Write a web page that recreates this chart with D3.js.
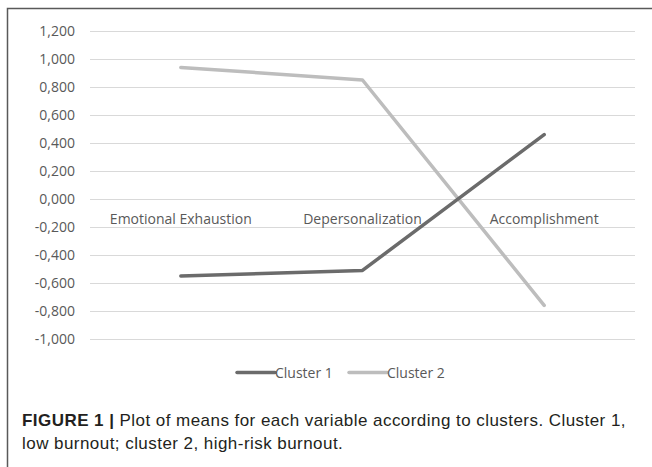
<!DOCTYPE html>
<html><head><meta charset="utf-8">
<script src="https://cdn.jsdelivr.net/npm/d3@7"></script>
<style>body{margin:0;background:#fff}svg{display:block}</style>
</head><body>
<script>
const categories = ["Emotional Exhaustion", "Depersonalization", "Accomplishment"];
const cluster1 = [-0.55, -0.51, 0.46];
const cluster2 = [0.94, 0.85, -0.76];
const seriesNames = ["Cluster 1", "Cluster 2"];
const tickValues = [1.2, 1.0, 0.8, 0.6, 0.4, 0.2, 0.0, -0.2, -0.4, -0.6, -0.8, -1.0];
const captionBold = "FIGURE 1 |";
const captionLine1 = " Plot of means for each variable according to clusters. Cluster 1,";
const captionLine2 = "low burnout; cluster 2, high-risk burnout.";

const W = 652, H = 467;
const svg = d3.select("body").append("svg").attr("width", W).attr("height", H);
const font = "'Open Sans', sans-serif";
const colors = ["#6b6b6b", "#bdbdbd"];

// frame
svg.append("path").attr("d", `M7.5,${H} V8.5 H${W}`).attr("fill","none").attr("stroke","#595959").attr("stroke-width",1.5);

const x = d3.scalePoint().domain(categories).range([90, 635]).padding(0.5);
const y = d3.scaleLinear().domain([-1.0, 1.2]).range([339, 31]);

const fmtTick = v => {
  const a = Math.abs(v) < 1e-9 ? 0 : v;
  return (a < 0 ? "-" : "") + Math.abs(a).toFixed(3).replace(".", ",");
};

const yAxis = d3.axisLeft(y).tickValues(tickValues).tickSize(-(635 - 90)).tickFormat(fmtTick).tickPadding(15);
const ga = svg.append("g").attr("transform", "translate(90,0)").call(yAxis);
ga.select(".domain").remove();
ga.selectAll(".tick line").attr("stroke", "#d9d9d9").attr("stroke-width", 1.2);
ga.selectAll(".tick text").attr("fill", "#595959").style("font-family", font).style("font-size", "14px");

svg.append("g").selectAll("text").data(categories).join("text")
  .attr("x", d => x(d)).attr("y", y(0) + 25)
  .attr("text-anchor", "middle").attr("fill", "#595959")
  .style("font-family", font).style("font-size", "14px").text(d => d);

const line = d3.line().x((d, i) => x(categories[i])).y(d => y(d));
[[cluster2, 1], [cluster1, 0]].forEach(([s, idx]) => {
  svg.append("path").datum(s).attr("d", line).attr("fill", "none")
    .attr("stroke", colors[idx]).attr("stroke-width", 3.5)
    .attr("stroke-linecap", "round").attr("stroke-linejoin", "round");
});

const legX = [237, 349];
const lg = svg.append("g");
seriesNames.forEach((n, i) => {
  lg.append("line").attr("x1", legX[i]).attr("x2", legX[i] + 38).attr("y1", 372.5).attr("y2", 372.5)
    .attr("stroke", colors[i]).attr("stroke-width", 3.5).attr("stroke-linecap", "round");
  lg.append("text").attr("x", legX[i] + 38).attr("y", 377.5).attr("fill", "#595959")
    .style("font-family", font).style("font-size", "14px").text(n);
});

const capFont = "'Liberation Sans', Arial, sans-serif";
const cap = svg.append("text").attr("x", 22).attr("y", 426).attr("fill", "#231f20")
  .style("font-family", capFont).style("font-size", "17px").style("letter-spacing", "0.45px");
cap.append("tspan").style("font-weight", "bold").text(captionBold);
cap.append("tspan").text(captionLine1);
svg.append("text").attr("x", 22).attr("y", 449).attr("fill", "#231f20")
  .style("font-family", capFont).style("font-size", "17px").style("letter-spacing", "0.45px").text(captionLine2);
</script>
</body></html>
